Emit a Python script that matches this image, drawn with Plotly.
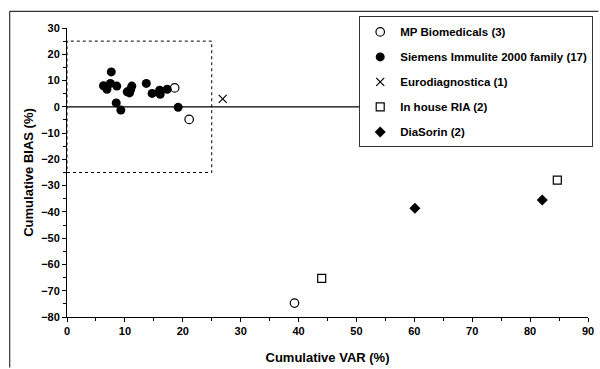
import plotly.graph_objects as go

# Data
mp_x = [18.6, 21.1, 39.3]
mp_y = [7.2, -4.8, -74.7]

siemens_x = [6.3, 6.9, 7.65, 7.5, 8.6, 8.5, 9.3, 10.4, 10.8, 11.2, 11.0, 13.7, 14.7, 16.0, 16.1, 17.3, 19.2]
siemens_y = [8.0, 6.7, 13.3, 8.9, 7.9, 1.5, -1.25, 5.7, 5.3, 7.9, 6.6, 8.9, 5.1, 6.3, 4.8, 6.7, -0.2]

euro_x = [26.9]
euro_y = [3.0]

inhouse_x = [44.0, 84.7]
inhouse_y = [-65.3, -27.9]

diasorin_x = [60.1, 82.1]
diasorin_y = [-38.6, -35.5]

series_names = ["MP Biomedicals (3)", "Siemens Immulite 2000 family (17)",
                "Eurodiagnostica (1)", "In house RIA (2)", "DiaSorin (2)"]

x_ticks = [0, 10, 20, 30, 40, 50, 60, 70, 80, 90]
y_ticks = [30, 20, 10, 0, -10, -20, -30, -40, -50, -60, -70, -80]

FONT = "Liberation Sans, Arial, sans-serif"

fig = go.Figure()
fig.add_trace(go.Scatter(x=mp_x, y=mp_y, mode="markers", name=series_names[0], legendgroup="a",
                         marker=dict(symbol="circle-open", size=8.5, color="black", line=dict(width=1.2, color="black"))))
fig.add_trace(go.Scatter(x=siemens_x, y=siemens_y, mode="markers", name=series_names[1], legendgroup="b",
                         marker=dict(symbol="circle", size=9, color="black")))
fig.add_trace(go.Scatter(x=euro_x, y=euro_y, mode="markers", name=series_names[2], legendgroup="c",
                         marker=dict(symbol="x-thin-open", size=8, color="black", line=dict(width=1.2, color="black"))))
fig.add_trace(go.Scatter(x=inhouse_x, y=inhouse_y, mode="markers", name=series_names[3], legendgroup="d",
                         marker=dict(symbol="square-open", size=8, color="black", line=dict(width=1.2, color="black"))))
fig.add_trace(go.Scatter(x=diasorin_x, y=diasorin_y, mode="markers", name=series_names[4], legendgroup="e",
                         marker=dict(symbol="diamond", size=8.5, color="black")))

# reference line at 0 and dotted acceptance box
fig.add_shape(type="line", x0=0, x1=90, y0=0, y1=0, xref="x", yref="y",
              line=dict(color="black", width=1.3), layer="below")
fig.add_shape(type="rect", x0=0, x1=25, y0=-25, y1=25, xref="x", yref="y",
              line=dict(color="black", width=1, dash="dot"), layer="below")
# outer frame (only the left and top edges are visible in the crop)
fig.add_shape(type="line", x0=-0.110, x1=-0.110, y0=-0.175, y1=1.0577, xref="paper", yref="paper",
              line=dict(color="#333333", width=1.2))
fig.add_shape(type="line", x0=-0.110, x1=1.02, y0=1.0577, y1=1.0577, xref="paper", yref="paper",
              line=dict(color="#333333", width=1.2))

fig.update_layout(
    width=600, height=369,
    margin=dict(l=67, r=12, t=28, b=52, autoexpand=False),
    paper_bgcolor="white", plot_bgcolor="white",
    font=dict(family=FONT, color="black", size=10),
    showlegend=True,
    legend=dict(x=1.01, xanchor="right", y=1.04, yanchor="top",
                bgcolor="white", bordercolor="#333333", borderwidth=1,
                font=dict(family=FONT, size=11.5, color="black", weight="bold"),
                tracegroupgap=6, itemwidth=30),
)
fig.update_xaxes(range=[0, 90], tickvals=x_ticks, ticks="outside", ticklen=4, tickwidth=1,
                 tickcolor="black", showline=True, linecolor="black", linewidth=1,
                 showgrid=False, zeroline=False, automargin=False,
                 tickfont=dict(family=FONT, size=11, weight="bold"),
                 minor=dict(dtick=5, ticks="outside", ticklen=3, tickcolor="black", showgrid=False),
                 title=dict(text="Cumulative VAR (%)", font=dict(family=FONT, size=13, weight="bold"), standoff=16))
fig.update_yaxes(range=[-80, 30], tickvals=y_ticks, ticks="outside", ticklen=4, tickwidth=1,
                 tickcolor="black", showline=True, linecolor="black", linewidth=1,
                 showgrid=False, zeroline=False, automargin=False,
                 tickfont=dict(family=FONT, size=11, weight="bold"),
                 minor=dict(dtick=5, ticks="outside", ticklen=3, tickcolor="black", showgrid=False),
                 title=dict(text="Cumulative BIAS (%)", font=dict(family=FONT, size=13, weight="bold"), standoff=4))

fig.write_html("out.html")
